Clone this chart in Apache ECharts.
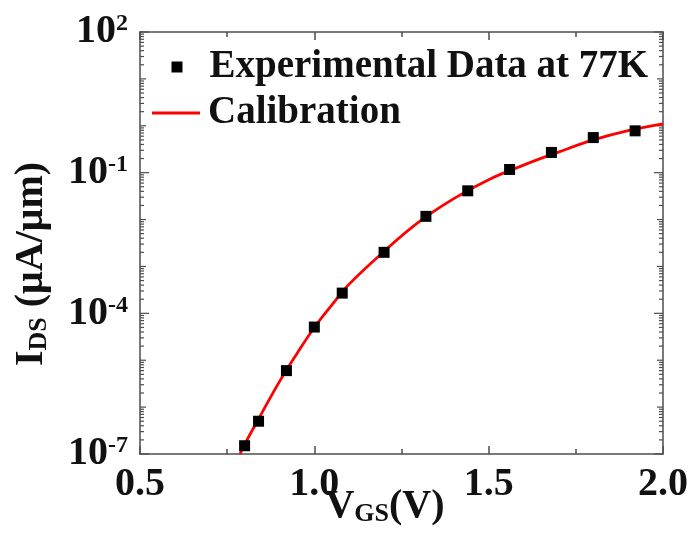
<!DOCTYPE html>
<html><head><meta charset="utf-8">
<script src="https://cdn.jsdelivr.net/npm/echarts@6/dist/echarts.min.js"></script>
<style>html,body{margin:0;padding:0;background:#fff}#c{width:693px;height:550px}</style>
</head><body><div id="c"></div>
<script>
// Experimental data at 77K
const expV = [0.80, 0.84, 0.92, 1.00, 1.08, 1.20, 1.32, 1.44, 1.56, 1.68, 1.80, 1.92];
const expI = [1.5e-7, 5.0e-7, 6.0e-6, 5.1e-5, 2.7e-4, 2.0e-3, 1.17e-2, 4.1e-2, 0.117, 0.27, 0.56, 0.78];
// Calibration curve
const calV = [0.787, 0.80, 0.84, 0.90, 0.95, 1.00, 1.05, 1.10, 1.20, 1.30, 1.40, 1.50, 1.60, 1.70, 1.80, 1.90, 2.00];
const calI = [1.0e-7, 1.6e-7, 5.6e-7, 3.5e-6, 1.38e-5, 5.0e-5, 1.5e-4, 4.2e-4, 2.1e-3, 8.9e-3, 2.8e-2, 7.1e-2, 0.145, 0.275, 0.50, 0.79, 1.1];
const xTickLabels = ['0.5', '1.0', '1.5', '2.0'];
const yLabelExps = [-7, -4, -1, 2];
const seriesNames = ['Experimental Data at 77K', 'Calibration'];

const FONT = 'Liberation Serif';
const AX = '#4d4d4d';

// log-axis tick decorations (decades + 2..9 minors)
const yTickMarks = [];
for (let e = -7; e <= 2; e++) {
  for (let k = 1; k <= 9; k++) {
    if (e === 2 && k > 1) break;
    const kind = k === 1 ? (yLabelExps.indexOf(e) >= 0 ? 2 : 1) : 0;
    yTickMarks.push([0.5, k * Math.pow(10, e), kind]);
  }
}

const chart = echarts.init(document.getElementById('c'));
const txt = {fontFamily: FONT, fontWeight: 'bold', color: '#111'};

const xBase = {
  type: 'value', min: 0.5, max: 2.0, interval: 0.5,
  axisLine: {show: true, onZero: false, lineStyle: {color: AX, width: 1.5}},
  axisTick: {show: true, inside: true, length: 8, lineStyle: {color: AX, width: 1.5}},
  minorTick: {show: true, splitNumber: 2, length: 5, lineStyle: {color: AX, width: 1.5}},
  splitLine: {show: false}, minorSplitLine: {show: false}
};

chart.setOption({
  animation: false,
  backgroundColor: '#fff',
  grid: {left: 140, top: 32, right: 30, bottom: 96, containLabel: false, outerBoundsMode: 'none'},
  legend: [
    {
      data: [{name: seriesNames[0], icon: 'rect'}], left: 171.5, top: 47, padding: 0,
      itemWidth: 11, itemHeight: 11,
      itemStyle: {color: '#000', opacity: 1},
      textStyle: Object.assign({fontSize: 39, lineHeight: 40, padding: [0, 0, 0, 22]}, txt)
    },
    {
      data: [{name: seriesNames[1], icon: 'rect'}], left: 152, top: 93, padding: 0,
      itemWidth: 48, itemHeight: 3,
      itemStyle: {color: '#ff0000'},
      textStyle: Object.assign({fontSize: 39, lineHeight: 40, padding: [0, 0, 0, 3]}, txt)
    }
  ],
  xAxis: [
    Object.assign({}, xBase, {
      position: 'bottom',
      axisLabel: Object.assign({show: true, fontSize: 40, margin: 11,
        formatter: function (v) { return xTickLabels[Math.round((v - 0.5) / 0.5)]; }}, txt),
      name: '{v|V}{g|GS}{p|(V)}',
      nameLocation: 'middle', nameGap: 33, nameMoveOverlap: false,
      nameTextStyle: {
        padding: [0, 33, 0, 0],
        rich: {
          v: Object.assign({fontSize: 40, lineHeight: 40, verticalAlign: 'top'}, txt),
          g: Object.assign({fontSize: 26, lineHeight: 26, padding: [18, 0, 0, 0], verticalAlign: 'bottom'}, txt),
          p: Object.assign({fontSize: 40, lineHeight: 40, verticalAlign: 'top'}, txt)
        }
      }
    }),
    Object.assign({}, xBase, {position: 'top', axisLabel: {show: false}})
  ],
  yAxis: [
    {
      type: 'log', logBase: 10, min: 1e-7, max: 1e2, position: 'left',
      axisLine: {show: true, onZero: false, lineStyle: {color: AX, width: 1.5}},
      axisTick: {show: false}, splitLine: {show: false}, minorTick: {show: false},
      axisLabel: {
        show: true, margin: 12,
        formatter: function (v) {
          const e = Math.round(Math.log10(v));
          if (yLabelExps.indexOf(e) < 0) return '';
          return '{b|10}{s|' + e + '}';
        },
        rich: {
          b: Object.assign({fontSize: 40, lineHeight: 40, padding: [6, 0, 0, 0], verticalAlign: 'bottom'}, txt),
          s: Object.assign({fontSize: 24, lineHeight: 24, verticalAlign: 'top'}, txt)
        }
      },
      name: '{a|I}{b|DS}{c| (μA/μm)}',
      nameLocation: 'middle', nameRotate: 90, nameGap: 88, nameMoveOverlap: false,
      nameTextStyle: {
        padding: [0, 42, 0, 0],
        rich: {
          a: Object.assign({fontSize: 40, lineHeight: 40, verticalAlign: 'top'}, txt),
          b: Object.assign({fontSize: 26, lineHeight: 26, padding: [18, 0, 0, 0], verticalAlign: 'bottom'}, txt),
          c: Object.assign({fontSize: 40, lineHeight: 40, verticalAlign: 'top'}, txt)
        }
      }
    },
    {
      type: 'log', logBase: 10, min: 1e-7, max: 1e2, position: 'right',
      axisLine: {show: true, onZero: false, lineStyle: {color: AX, width: 1.5}},
      axisTick: {show: false}, axisLabel: {show: false}, splitLine: {show: false}
    }
  ],
  series: [
    {
      name: 'ticks', type: 'custom', xAxisIndex: 0, yAxisIndex: 0, silent: true, clip: false, z: 1,
      encode: {x: 0, y: 1},
      data: yTickMarks,
      renderItem: function (params, api) {
        const y = api.value(1), kind = api.value(2);
        const L = api.coord([0.5, y]), R = api.coord([2.0, y]);
        const len = kind === 2 ? 9 : (kind === 1 ? 6 : 4);
        const st = {stroke: AX, lineWidth: 1.2};
        return {type: 'group', children: [
          {type: 'line', shape: {x1: L[0], y1: L[1], x2: L[0] + len, y2: L[1]}, style: st},
          {type: 'line', shape: {x1: R[0], y1: R[1], x2: R[0] - len, y2: R[1]}, style: st}
        ]};
      }
    },
    {
      name: seriesNames[1], type: 'line', smooth: 0.4, symbol: 'none', showSymbol: false,
      lineStyle: {color: '#ff0000', width: 2.8}, itemStyle: {color: '#ff0000'}, z: 3,
      data: calV.map((v, i) => [v, calI[i]])
    },
    {
      name: seriesNames[0], type: 'scatter', symbol: 'rect', symbolSize: 11,
      itemStyle: {color: '#000', opacity: 1}, z: 4,
      data: expV.map((v, i) => [v, expI[i]])
    }
  ]
});
</script></body></html>
